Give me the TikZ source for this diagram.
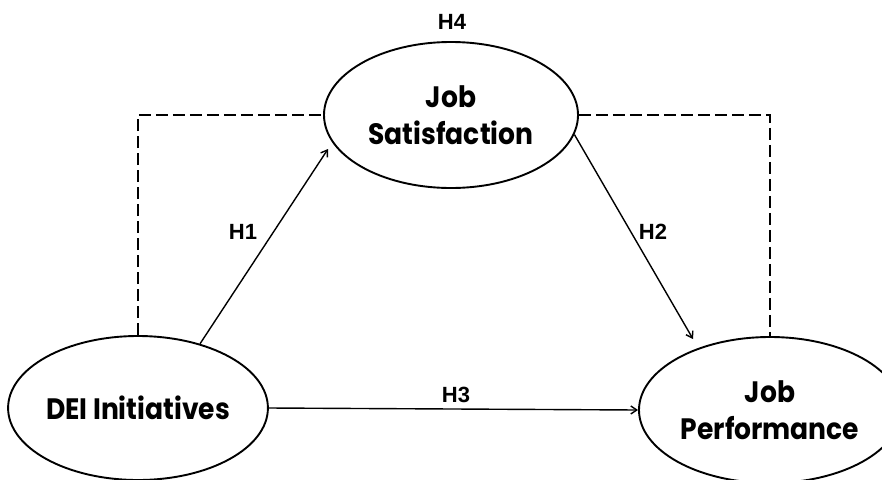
\documentclass[tikz,border=0pt]{standalone}
\usepackage{fontspec}
\setmainfont{Poppins}
\newfontfamily\titlefont[FakeStretch=0.9]{Poppins}
\newfontfamily\hypfont{Liberation Sans}
\usetikzlibrary{shapes.geometric,arrows.meta}
\tikzset{
  construct/.style={draw, line width=1.9pt, ellipse, inner sep=0pt, align=center,
    font=\titlefont\bfseries\fontsize{29.5}{37}\selectfont},
  hyp/.style={font=\hypfont\bfseries\fontsize{22}{24}\selectfont, inner sep=0pt},
  path arrow/.style={line width=1.4pt, -{Straight Barb[length=6pt,width=8pt]}},
  dashlink/.style={line width=2.4pt, dash pattern=on 12pt off 5pt}
}
\begin{document}
\begin{tikzpicture}[x=1pt,y=-1pt]
\useasboundingbox (0,0) rectangle (882,479);
\begin{scope}
\clip (0,0) rectangle (882,479);
\node[construct, minimum width=252pt, minimum height=144pt] (dei) at (138,408) {DEI Initiatives};
\node[construct, minimum width=254pt, minimum height=146pt] (js) at (451,115) {Job\\Satisfaction};
\node[construct, minimum width=262pt, minimum height=146pt] (jp) at (770,410) {Job\\Performance};
\end{scope}
\coordinate (h1end) at (328,149);
\coordinate (h2end) at (693,339);
\draw[path arrow] (dei.46) -- (h1end);
\draw[path arrow] (js.-9) -- (h2end);
\draw[path arrow] (dei.east) -- (jp.west);
\draw[dashlink] (dei.north) |- (js.west);
\draw[dashlink] (js.east) -| (jp.north);
\node[hyp] (h1) at (243,232) {H1};
\node[hyp] (h2) at (653,232) {H2};
\node[hyp] (h3) at (456,395) {H3};
\node[hyp] (h4) at (452,22) {H4};
\end{tikzpicture}
\end{document}
